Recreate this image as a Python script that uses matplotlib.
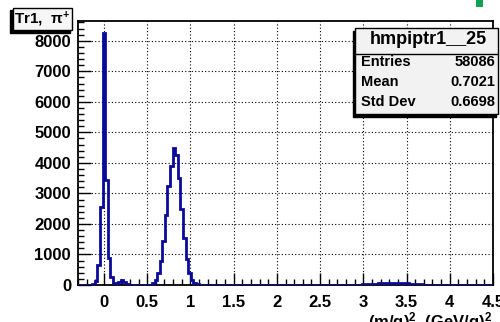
import numpy as np
import matplotlib
matplotlib.use("Agg")
import matplotlib.pyplot as plt
from matplotlib.patches import Rectangle

plt.rcParams['font.family'] = ['Liberation Sans', 'DejaVu Sans']
plt.rcParams['font.weight'] = 'bold'
plt.rcParams['mathtext.fontset'] = 'custom'
plt.rcParams['mathtext.rm'] = 'Liberation Sans:bold'
plt.rcParams['mathtext.it'] = 'Liberation Sans:bold'

# -------------------------------
# DATA (bin centres in (m/q)^2 and counts)
# -------------------------------
pion_m2 = [-0.15, -0.12, -0.09, -0.06, -0.03, 0.00, 0.03, 0.06, 0.09,
           0.12, 0.15, 0.18, 0.21, 0.24, 0.27, 0.30, 0.33]
pion_counts = [10, 30, 120, 650, 2550, 8250, 3450, 870, 250,
               60, 50, 100, 150, 90, 40, 15, 5]

kaon_m2 = [0.54, 0.57, 0.60, 0.63, 0.66, 0.69, 0.72, 0.75, 0.78, 0.81,
           0.84, 0.87, 0.90, 0.93, 0.96, 0.99, 1.02, 1.05, 1.08]
kaon_counts = [15, 55, 150, 380, 800, 1450, 2300, 3250, 3900, 4480,
               4250, 3500, 2500, 1550, 850, 400, 160, 60, 20]

heavy_m2 = [2.97, 3.00, 3.03, 3.06, 3.09, 3.12, 3.15, 3.18, 3.21, 3.24,
            3.27, 3.30, 3.33, 3.36, 3.39, 3.42, 3.45, 3.48, 3.51, 3.54,
            3.57, 3.60, 3.63, 3.66, 3.69]
heavy_counts = [10, 20, 25, 30, 35, 40, 45, 50, 55, 60,
                70, 75, 80, 80, 75, 70, 60, 55, 50, 45,
                40, 30, 25, 20, 10]

hist_name = "hmpiptr1__25"
stats_labels = ["Entries", "Mean", "Std Dev"]
stats_values = ["58086", "0.7021", "0.6698"]
title_text = r"Tr1,  $\pi^{+}$"
x_label = r"(m/q)$^{2}$, (GeV/q)$^{2}$"

# -------------------------------
# FIGURE
# -------------------------------
fig = plt.figure(figsize=(5.0, 3.22), dpi=100)
ax = fig.add_axes([0.156, 0.115, 0.830, 0.820])

edges = np.arange(-0.315, 4.53, 0.03)
all_m2 = pion_m2 + kaon_m2 + heavy_m2
all_counts = pion_counts + kaon_counts + heavy_counts
ax.hist(all_m2, bins=edges, weights=all_counts, histtype='step',
        color='#0a0a9a', linewidth=2.0, zorder=3)

ax.set_xlim(-0.3, 4.5)
ax.set_ylim(0, 8650)
ax.set_xticks(np.arange(0, 4.51, 0.5))
ax.set_xticklabels(["0", "0.5", "1", "1.5", "2", "2.5", "3", "3.5", "4", "4.5"])
ax.set_xticks(np.arange(-0.3, 4.51, 0.1), minor=True)
ax.set_yticks(np.arange(0, 8001, 1000))
ax.set_yticks(np.arange(0, 8601, 200), minor=True)

ax.tick_params(which='both', direction='in', labelsize=12, width=1.0,
               top=False, right=False)
ax.tick_params(which='major', length=9)
ax.tick_params(which='minor', length=4.5)
ax.tick_params(axis='y', pad=5)
ax.tick_params(axis='x', pad=7)
for lab in ax.get_xticklabels() + ax.get_yticklabels():
    lab.set_fontweight('bold')

ax.grid(True, which='major', linestyle=(0, (1.0, 2.0)), color='black',
        linewidth=0.8)
for sp in ax.spines.values():
    sp.set_linewidth(1.3)

# axis title sits at the very bottom edge, as in the reference
fig.text(492 / 500, 1 - 310 / 322, x_label, ha='right', va='top',
         fontsize=12, fontweight='bold')

# -------------------------------
# TITLE BOX
# -------------------------------
def px_box(x0, y0, x1, y1, face):
    # pixel coords (top-down) -> figure rectangle with ROOT-like shadow
    w, h = (x1 - x0) / 500, (y1 - y0) / 322
    fx, fy = x0 / 500, 1 - y1 / 322
    fig.patches.append(Rectangle((fx - 2.5 / 500, fy - 2.5 / 322), w, h,
                                 transform=fig.transFigure, facecolor='black',
                                 edgecolor='black', zorder=5))
    fig.patches.append(Rectangle((fx, fy), w, h, transform=fig.transFigure,
                                 facecolor=face, edgecolor='black',
                                 linewidth=1.0, zorder=6))

px_box(13, 8, 72, 30, '#f6f6f6')
fig.text(42 / 500, 1 - 19 / 322, title_text, ha='center', va='center',
         fontsize=11, fontweight='bold', zorder=7)

# -------------------------------
# STATS BOX
# -------------------------------
px_box(355, 28, 498, 114, '#f2f2f2')
fig.add_artist(plt.Line2D([355 / 500, 498 / 500], [1 - 54 / 322, 1 - 54 / 322],
                          transform=fig.transFigure, color='black',
                          linewidth=1.0, zorder=7))
fig.text(428 / 500, 1 - 40 / 322, hist_name, ha='center', va='center',
         fontsize=13, fontweight='bold', zorder=7)
for i, (lab, val) in enumerate(zip(stats_labels, stats_values)):
    yy = 1 - (62 + 20 * i) / 322
    fig.text(361 / 500, yy, lab, ha='left', va='center', fontsize=10.5,
             fontweight='bold', zorder=7)
    fig.text(495 / 500, yy, val, ha='right', va='center', fontsize=10.5,
             fontweight='bold', zorder=7)

# small green marker at the top right
fig.patches.append(Rectangle((476 / 500, 1 - 7 / 322), 7 / 500, 7 / 322,
                             transform=fig.transFigure, facecolor='#10a050',
                             edgecolor='none', zorder=7))

fig.savefig("out.png", dpi=100)
